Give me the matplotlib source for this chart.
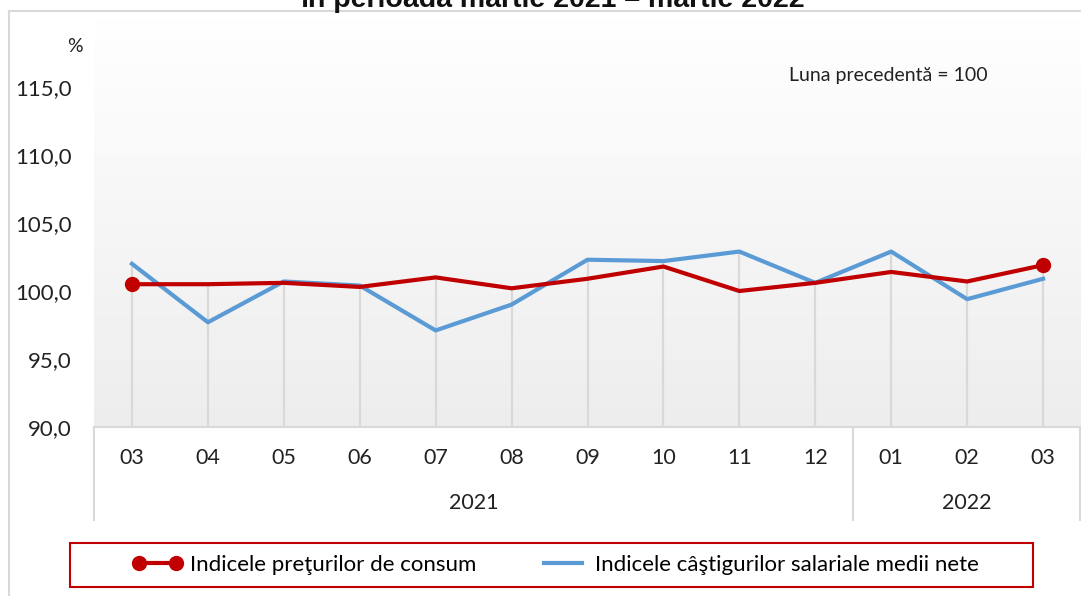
import matplotlib
matplotlib.use('Agg')
import matplotlib.pyplot as plt
import numpy as np
from matplotlib.lines import Line2D
from matplotlib.patches import Rectangle

months = ['03', '04', '05', '06', '07', '08', '09', '10', '11', '12', '01', '02', '03']
years = ['2021', '2022']
year_sizes = [10, 3]
cpi = [100.5, 100.5, 100.6, 100.3, 101.0, 100.2, 100.9, 101.8, 100.0, 100.6, 101.4, 100.7, 101.9]
wages = [102.0, 97.7, 100.7, 100.4, 97.1, 99.0, 102.3, 102.2, 102.9, 100.6, 102.9, 99.4, 100.9]
yticks = [90, 95, 100, 105, 110, 115]

W, H = 1081, 596
plt.rcParams['font.family'] = ['Lato', 'DejaVu Sans']
fig = plt.figure(figsize=(W / 100, H / 100), dpi=100)

def fx(px):
    return px / W

def fy(py):
    return 1 - py / H

grid_c = '#d9d9d9'
red = '#c00000'
blue = '#5b9bd5'
txt_c = '#222222'

# main plot area
ax = fig.add_axes([fx(94), fy(427), fx(1081 - 94), (427 - 19) / H])
x = np.arange(len(months))
ax.set_xlim(-0.5, len(months) - 0.5)
ax.set_ylim(90, 120)

grad = np.linspace(1.0, 0.93, 256).reshape(-1, 1)
ax.imshow(np.dstack([grad, grad, grad]), extent=(-0.5, len(months) - 0.5, 90, 120),
          aspect='auto', origin='upper', zorder=0)

tops = np.maximum(cpi, wages)
ax.vlines(x, 90, tops, color=grid_c, lw=1.6, zorder=1)

ax.plot(x, cpi, color=red, lw=3, marker='o', ms=10, markevery=[0, len(x) - 1], zorder=3)
ax.plot(x, wages, color=blue, lw=3, zorder=2)

ax.set_yticks(yticks)
ax.set_yticklabels([f'{v:.1f}'.replace('.', ',') for v in yticks], fontsize=16, color=txt_c)
ax.tick_params(axis='y', length=0, pad=16)
ax.set_xticks([])
for s in ax.spines.values():
    s.set_visible(False)

fig.text(fx(75), fy(47), '%', ha='center', va='center', fontsize=14, color=txt_c)
ax.text(0.704, 0.861, 'Luna precedentă = 100', transform=ax.transAxes, fontsize=14,
        color=txt_c, va='center', ha='left')

# category box
cax = fig.add_axes([fx(94), fy(520), fx(1081 - 94), (520 - 427) / H])
cax.set_xlim(-0.5, len(months) - 0.5)
cax.set_ylim(0, 1)
cax.axis('off')
cax.axhline(1, color=grid_c, lw=1.5, clip_on=False)
bounds = np.concatenate([[0], np.cumsum(year_sizes)]) - 0.5
bounds[-1] -= 0.01
for b in bounds:
    cax.plot([b, b], [0, 1], color=grid_c, lw=1.5, clip_on=False)
for i, m in enumerate(months):
    cax.text(i, 0.67, m, ha='center', va='center', fontsize=15.5, color=txt_c)
for k, yr in enumerate(years):
    mid = (bounds[k] + bounds[k + 1]) / 2
    cax.text(mid, 0.18, yr, ha='center', va='center', fontsize=15.5, color=txt_c)

# outer chart border
fig.add_artist(Line2D([fx(9), 1], [fy(11), fy(11)], color=grid_c, lw=1.5))
fig.add_artist(Line2D([fx(9), fx(9)], [0, fy(11)], color=grid_c, lw=1.5))

# title, cut off by the top edge as in the source
fig.text(fx(552), fy(7), 'în perioada martie 2021 – martie 2022', ha='center', va='baseline',
         fontsize=20.5, fontweight='bold', family='Liberation Sans', color='#111111')

# legend
fig.add_artist(Rectangle((fx(70), fy(587)), fx(1033 - 70), (587 - 543) / H,
                         transform=fig.transFigure, fill=False, edgecolor=red, lw=1.5))
handles = [Line2D([], [], color=red, lw=3, marker='o', ms=10),
           Line2D([], [], color=blue, lw=3)]
labels = ['Indicele preţurilor de consum', 'Indicele câştigurilor salariale medii nete']
fig.legend(handles, labels, loc='center left', bbox_to_anchor=(fx(132), fy(565)),
           ncol=2, frameon=False, fontsize=16, numpoints=2, handlelength=2.3,
           handletextpad=0.3, columnspacing=2.75, borderpad=0, borderaxespad=0)

fig.savefig('out.png', dpi=100)
